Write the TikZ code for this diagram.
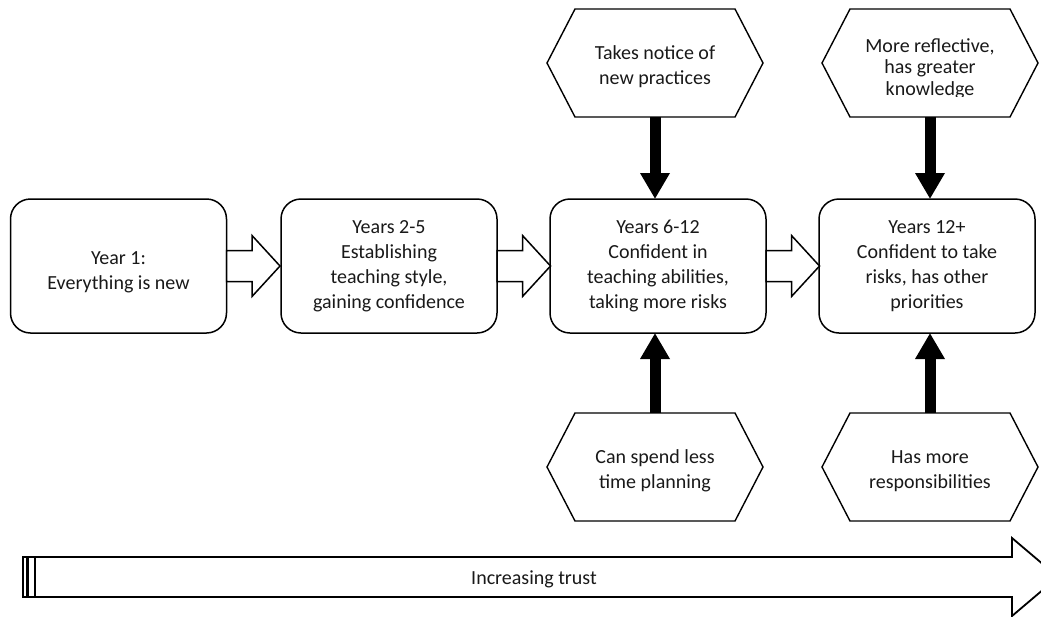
\documentclass[tikz,border=0pt]{standalone}
\usepackage{fontspec}
\setmainfont{Carlito}
\usetikzlibrary{arrows.meta}
\newcommand{\dropby}[1]{\rule{0pt}{#1}}
\begin{document}
\begin{tikzpicture}[x=1pt,y=-1pt,
  txt/.style={font=\fontsize{20}{25}\selectfont, text=black!90},
  box/.style={txt, draw, line width=1.5pt, rounded corners=20pt, minimum width=216pt, minimum height=134pt, align=center, inner sep=4pt, outer sep=0pt},
  hexn/.style={txt, minimum width=216pt, minimum height=108pt, align=center, outer sep=0pt, inner sep=0pt},
  hexline/.style={draw, line width=1.4pt, line join=miter},
  hollow/.style={draw, line width=1.5pt, fill=white, line join=miter},
  bigarrow/.style={line width=11pt, -{Triangle[width=28pt,length=26pt]}},
]
\useasboundingbox (0,0) rectangle (1041,616);
\clip (0,0) rectangle (1041,616);

% main boxes
\node[box] (b1) at (118.5,266) {\dropby{26pt}Year 1:\\Everything is new};
\node[box] (b2) at (389,266) {Years 2-5\\Establishing\\teaching style,\\gaining confidence};
\node[box] (b3) at (658,266) {Years 6-12\\Confident in\\teaching abilities,\\taking more risks};
\node[box] (b4) at (927,266) {Years 12+\\Confident to take\\risks, has other\\priorities};

% hexagons
\node[hexn] (h1) at (655,63) {\dropby{22pt}Takes notice of\\new practices};
\begin{scope}
  \clip (800,0) rectangle (1041,96.5);
  \node[hexn, font=\fontsize{20}{21.5}\selectfont] (h2) at (930,63) {\dropby{25pt}More reflective,\\has greater\\knowledge};
\end{scope}
\node[hexn] (h3) at (655,467) {\dropby{21pt}Can spend less\\time planning};
\node[hexn] (h4) at (930,467) {\dropby{21pt}Has more\\responsibilities};

\foreach \h in {h1,h2,h3,h4}
  \draw[hexline] ([xshift=28pt]\h.north west) -- ([xshift=-28pt]\h.north east) -- (\h.east)
    -- ([xshift=-28pt]\h.south east) -- ([xshift=28pt]\h.south west) -- (\h.west) -- cycle;

% hollow block arrows between boxes
\foreach \s in {b1,b2,b3}
  \draw[hollow, shift={(\s.east)}] (0,-15.5) -- (25.5,-15.5) -- (25.5,-30.5) -- (53.5,0)
    -- (25.5,30.5) -- (25.5,15.5) -- (0,15.5) -- cycle;

% thick black arrows
\draw[bigarrow] (h1.south) -- (h1.south |- b3.north);
\draw[bigarrow] (h2.south) -- (h2.south |- b4.north);
\draw[bigarrow] (h3.north) -- (h3.north |- b3.south);
\draw[bigarrow] (h4.north) -- (h4.north |- b4.south);

% bottom striped arrow
\draw[line width=1.6pt, fill=white] (23,557) rectangle (27,597);
\draw[line width=1.6pt, fill=white] (28.5,557) rectangle (35,597);
\draw[hollow, line width=1.8pt] (35,557) -- (1012,557) -- (1012,538) -- (1058,577)
  -- (1012,616) -- (1012,597) -- (35,597) -- cycle;
\node[txt] (trust) at (534,579) {Increasing trust};
\end{tikzpicture}
\end{document}
